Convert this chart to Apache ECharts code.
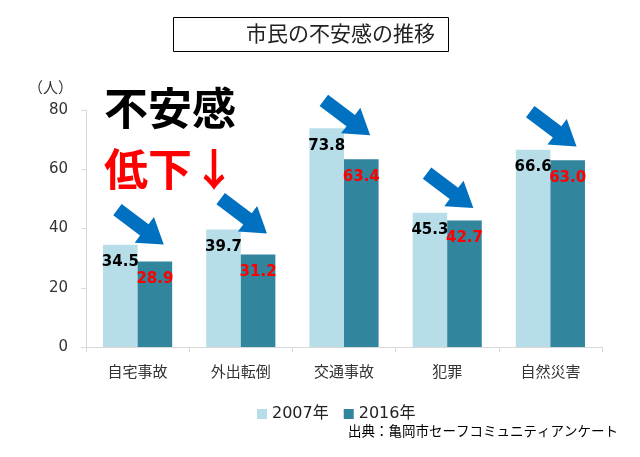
<!DOCTYPE html>
<html><head><meta charset="utf-8">
<script src="https://cdn.jsdelivr.net/npm/echarts@6/dist/echarts.min.js"></script>
<style>html,body{margin:0;padding:0;background:#fff}#c{width:640px;height:457px}</style>
</head><body><div id="c"></div>
<script>
var categories = ['自宅事故', '外出転倒', '交通事故', '犯罪', '自然災害'];
var v2007 = [34.5, 39.7, 73.8, 45.3, 66.6];
var v2016 = [28.9, 31.2, 63.4, 42.7, 63.0];
var seriesNames = ['2007年', '2016年'];
var yTicks = [0, 20, 40, 60, 80];

var cjk = '"Noto Sans CJK JP", "Noto Sans", sans-serif';
var mixed = '"DejaVu Sans", "Noto Sans CJK JP", sans-serif';
var arrowPath = 'path://M0,14 L58,14 L58,0 L100,25 L58,50 L58,36 L0,36 Z';

function txt(x, y, text, font, fill) {
  return {type: 'text', x: x, y: y, style: {text: text, font: font, fill: fill, verticalAlign: 'middle', textVerticalAlign: 'middle'}};
}

var chart = echarts.init(document.getElementById('c'));
chart.setOption({
  animation: false,
  backgroundColor: '#fff',
  grid: {left: 86, right: 38, top: 110, bottom: 110, containLabel: false},
  legend: {
    data: seriesNames, left: 252, top: 401, itemWidth: 10, itemHeight: 10, itemGap: 15,
    icon: 'rect', textStyle: {fontFamily: mixed, fontSize: 16, color: '#222'}
  },
  xAxis: {
    type: 'category', data: categories,
    axisLine: {lineStyle: {color: '#D9D9D9', width: 1}},
    axisTick: {show: true, length: 5, lineStyle: {color: '#D9D9D9'}},
    axisLabel: {fontFamily: cjk, fontSize: 15, color: '#333', margin: 17}
  },
  yAxis: {
    type: 'value', min: yTicks[0], max: yTicks[yTicks.length - 1], interval: yTicks[1] - yTicks[0],
    axisLine: {show: true, lineStyle: {color: '#D9D9D9', width: 1}},
    axisTick: {show: true, length: 5, lineStyle: {color: '#D9D9D9'}},
    splitLine: {show: false},
    axisLabel: {fontFamily: '"DejaVu Sans", sans-serif', fontSize: 15, color: '#333', margin: 18}
  },
  series: [
    {
      name: seriesNames[0], type: 'bar', data: v2007, barGap: '0%', barCategoryGap: '33%',
      itemStyle: {color: '#B7DDE8'},
      label: {show: true, position: 'insideTop', distance: 10, formatter: function(p){return p.value.toFixed(1);},
        fontFamily: '"DejaVu Sans", sans-serif', fontWeight: 'bold', fontSize: 15, color: '#000'}
    },
    {
      name: seriesNames[1], type: 'bar', data: v2016,
      itemStyle: {color: '#31859C'},
      label: {show: true, position: 'insideTop', distance: 10, formatter: function(p){return p.value.toFixed(1);},
        fontFamily: '"DejaVu Sans", sans-serif', fontWeight: 'bold', fontSize: 15, color: '#FF0000'}
    },
    {
      name: 'arrow', type: 'scatter', silent: true,
      data: categories.map(function(c, i){ return [c, (v2007[i] + v2016[i]) / 2]; }),
      symbol: arrowPath, symbolSize: [58, 32], symbolRotate: -37, symbolOffset: [3, -26],
      itemStyle: {color: '#0070C0', opacity: 1}, z: 5
    }
  ],
  graphic: [
    {type: 'rect', left: 173, top: 17, shape: {width: 275, height: 34},
      style: {fill: '#fff', stroke: '#000', lineWidth: 1}},
    txt(246, 33, '市民の不安感の推移', '21px ' + cjk, '#222'),
    txt(28, 87, '（人）', '15px ' + cjk, '#333'),
    txt(104, 108, '不安感', 'bold 44px ' + cjk, '#000'),
    txt(104, 169, '低下↓', 'bold 44px ' + cjk, '#FF0000'),
    txt(348, 431, '出典：亀岡市セーフコミュニティアンケート', '13.5px ' + cjk, '#000')
  ]
});
</script></body></html>
